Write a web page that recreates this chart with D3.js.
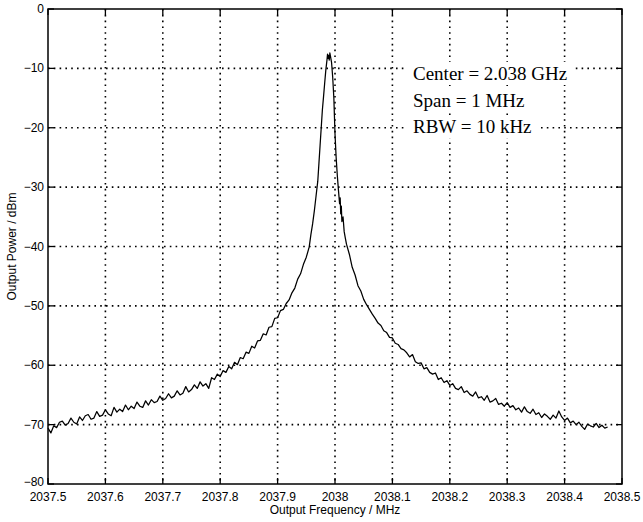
<!DOCTYPE html>
<html>
<head>
<meta charset="utf-8">
<script src="https://cdn.jsdelivr.net/npm/d3@7"></script>
<style>
  body { margin: 0; background: #fff; }
  svg { display: block; }
  .tick-label { font-family: "Liberation Sans", Arial, sans-serif; font-size: 12px; fill: #000; }
  .axis-title { font-family: "Liberation Sans", Arial, sans-serif; font-size: 12px; fill: #000; }
  .note { font-family: "Liberation Serif", "Times New Roman", serif; font-size: 19px; fill: #000; }
</style>
</head>
<body>
<div id="main"></div>
<script>
// spectrum trace
const freqMHz = [
  2037.500, 2037.505, 2037.510, 2037.515, 2037.520, 2037.525, 2037.530, 2037.535, 2037.540, 2037.545,
  2037.550, 2037.555, 2037.560, 2037.565, 2037.570, 2037.575, 2037.580, 2037.585, 2037.590, 2037.595,
  2037.600, 2037.605, 2037.610, 2037.615, 2037.620, 2037.625, 2037.630, 2037.635, 2037.640, 2037.645,
  2037.650, 2037.655, 2037.660, 2037.665, 2037.670, 2037.675, 2037.680, 2037.685, 2037.690, 2037.695,
  2037.700, 2037.705, 2037.710, 2037.715, 2037.720, 2037.725, 2037.730, 2037.735, 2037.740, 2037.745,
  2037.750, 2037.755, 2037.760, 2037.765, 2037.770, 2037.775, 2037.780, 2037.785, 2037.790, 2037.795,
  2037.800, 2037.805, 2037.810, 2037.815, 2037.820, 2037.825, 2037.830, 2037.835, 2037.840, 2037.845,
  2037.850, 2037.855, 2037.860, 2037.865, 2037.870, 2037.875, 2037.880, 2037.885, 2037.890, 2037.895,
  2037.900, 2037.905, 2037.910, 2037.915, 2037.920, 2037.925, 2037.930, 2037.935, 2037.940, 2037.945,
  2037.950, 2037.955,
  2037.958, 2037.961, 2037.964, 2037.967, 2037.970, 2037.972, 2037.974, 2037.976, 2037.978, 2037.980,
  2037.982, 2037.984, 2037.986, 2037.987, 2037.988, 2037.989, 2037.990, 2037.991, 2037.992, 2037.994,
  2037.996, 2037.998, 2037.999, 2038.000, 2038.002, 2038.004, 2038.006, 2038.008, 2038.009, 2038.010,
  2038.011, 2038.012, 2038.014, 2038.016, 2038.018, 2038.020,
  2038.025, 2038.030, 2038.035, 2038.040, 2038.045, 2038.050, 2038.055, 2038.060, 2038.065, 2038.070,
  2038.075, 2038.080, 2038.085, 2038.090, 2038.095, 2038.100, 2038.105, 2038.110, 2038.115, 2038.120,
  2038.125, 2038.130, 2038.135, 2038.140, 2038.145, 2038.150, 2038.155, 2038.160, 2038.165, 2038.170,
  2038.175, 2038.180, 2038.185, 2038.190, 2038.195, 2038.200, 2038.205, 2038.210, 2038.215, 2038.220,
  2038.225, 2038.230, 2038.235, 2038.240, 2038.245, 2038.250, 2038.255, 2038.260, 2038.265, 2038.270,
  2038.275, 2038.280, 2038.285, 2038.290, 2038.295, 2038.300, 2038.305, 2038.310, 2038.315, 2038.320,
  2038.325, 2038.330, 2038.335, 2038.340, 2038.345, 2038.350, 2038.355, 2038.360, 2038.365, 2038.370,
  2038.375, 2038.380, 2038.385, 2038.390, 2038.395, 2038.400, 2038.405, 2038.410, 2038.415, 2038.420,
  2038.425, 2038.430, 2038.435, 2038.440, 2038.445, 2038.450, 2038.455, 2038.460, 2038.465, 2038.470,
  2038.475
];
const powerDbm = [
  -70.6, -71.4, -70.2, -70.5, -69.6, -69.4, -70.1, -69.8, -68.9, -69.6,
  -69.9, -68.7, -69.3, -68.5, -68.3, -69.1, -68.9, -67.8, -68.6, -68.4,
  -67.5, -68.2, -68.5, -67.1, -67.9, -67.4, -67.8, -66.7, -67.5, -66.9,
  -67.3, -66.2, -66.9, -67.1, -66.0, -66.7, -65.8, -66.3, -66.1, -65.2,
  -65.9, -65.6, -64.8, -65.5, -65.2, -64.3, -65.0, -64.7, -63.6, -64.5,
  -64.1, -63.3, -63.9, -62.8, -63.5, -63.1, -63.9, -62.1, -62.4, -61.5,
  -61.9, -60.9, -61.2, -60.2, -60.6, -59.5, -59.9, -58.7, -58.9, -57.8,
  -58.0, -56.8, -57.1, -55.9, -55.8, -54.7, -54.9, -53.6, -53.5, -52.1,
  -52.0, -50.8, -50.6, -49.6, -49.0, -47.8, -47.0, -45.5, -44.6, -43.0,
  -41.8, -40.1,
  -38.0, -36.2, -34.0, -31.5, -29.0, -26.0, -23.0, -20.0, -17.0, -14.8,
  -12.5, -10.3, -8.6, -7.6, -8.3, -7.8, -8.6, -7.4, -7.9, -9.0,
  -11.5, -15.0, -18.0, -21.0, -25.0, -28.0, -30.5, -32.8, -31.8, -34.5,
  -33.2, -35.8, -35.0, -37.5, -38.6, -39.6,
  -41.3, -43.5, -44.8, -46.6, -47.5, -48.9, -49.8, -50.6, -51.4, -52.1,
  -52.9, -53.3, -54.2, -54.5, -55.3, -55.4, -56.3, -56.5, -57.2, -57.4,
  -57.9, -58.6, -58.2, -59.4, -59.7, -59.6, -60.6, -60.4, -61.2, -61.5,
  -61.3, -62.4, -62.1, -62.9, -62.6, -63.4, -63.1, -63.9, -64.1, -63.6,
  -64.6, -64.3, -64.9, -65.2, -64.5, -65.5, -65.3, -65.9, -65.1, -66.2,
  -66.0, -65.6, -66.6, -66.4, -66.9, -66.3, -67.1, -66.8, -67.5, -67.2,
  -67.9, -67.0, -67.8, -68.1, -67.4, -68.3, -68.0, -68.8, -68.2, -68.6,
  -69.1, -68.4, -68.9, -67.7, -68.7, -69.3, -68.9, -69.7, -69.4, -70.0,
  -69.6, -70.3, -70.8, -69.9, -70.2, -70.4, -69.8, -70.5, -70.1, -70.6,
  -70.4
];
const xTicks = [2037.5, 2037.6, 2037.7, 2037.8, 2037.9, 2038, 2038.1, 2038.2, 2038.3, 2038.4, 2038.5];
const yTicks = [0, -10, -20, -30, -40, -50, -60, -70, -80];
const notes = ["Center = 2.038 GHz", "Span = 1 MHz", "RBW = 10 kHz"];

const width = 643, height = 522;
const plotL = 48, plotR = 622, plotT = 9, plotB = 484;

const svg = d3.select('#main').append('svg')
  .attr('width', width)
  .attr('height', height);

const x = d3.scaleLinear().domain([2037.5, 2038.5]).range([plotL, plotR]);
const y = d3.scaleLinear().domain([-80, 0]).range([plotB, plotT]);

// dotted grid
const grid = svg.append('g')
  .attr('stroke', '#000')
  .attr('stroke-width', 1.6)
  .attr('stroke-dasharray', '1.6,4.2');
grid.selectAll('.vg')
  .data(xTicks.slice(1, -1))
  .enter().append('line')
  .attr('x1', d => x(d)).attr('x2', d => x(d))
  .attr('y1', plotT).attr('y2', plotB);
grid.selectAll('.hg')
  .data(yTicks.slice(1, -1))
  .enter().append('line')
  .attr('x1', plotL).attr('x2', plotR)
  .attr('y1', d => y(d)).attr('y2', d => y(d));

// trace
const line = d3.line()
  .x((d, i) => x(freqMHz[i]))
  .y(d => y(d));
svg.append('path')
  .datum(powerDbm)
  .attr('fill', 'none')
  .attr('stroke', '#000')
  .attr('stroke-width', 1.25)
  .attr('stroke-linejoin', 'round')
  .attr('d', line);

// annotation with white boxes over the grid
const noteG = svg.append('g');
notes.forEach((t, i) => {
  const g = noteG.append('g');
  const txt = g.append('text')
    .attr('class', 'note')
    .attr('x', 413)
    .attr('y', 80 + i * 26.7)
    .text(t);
  const bb = txt.node().getBBox();
  g.insert('rect', 'text')
    .attr('x', bb.x - 6).attr('y', bb.y - 1)
    .attr('width', bb.width + 12).attr('height', bb.height + 2)
    .attr('fill', '#fff');
});

// frame
svg.append('rect')
  .attr('x', plotL).attr('y', plotT)
  .attr('width', plotR - plotL).attr('height', plotB - plotT)
  .attr('fill', 'none')
  .attr('stroke', '#000')
  .attr('stroke-width', 1.5);

// inward ticks on all four sides
const tk = svg.append('g').attr('stroke', '#000').attr('stroke-width', 1.3);
xTicks.forEach(v => {
  tk.append('line').attr('x1', x(v)).attr('x2', x(v)).attr('y1', plotB).attr('y2', plotB - 6);
  tk.append('line').attr('x1', x(v)).attr('x2', x(v)).attr('y1', plotT).attr('y2', plotT + 6);
});
yTicks.forEach(v => {
  tk.append('line').attr('x1', plotL).attr('x2', plotL + 6).attr('y1', y(v)).attr('y2', y(v));
  tk.append('line').attr('x1', plotR).attr('x2', plotR - 6).attr('y1', y(v)).attr('y2', y(v));
});

// tick labels
svg.append('g').selectAll('text')
  .data(xTicks)
  .enter().append('text')
  .attr('class', 'tick-label')
  .attr('x', d => x(d))
  .attr('y', plotB + 17)
  .attr('text-anchor', 'middle')
  .text(d => d3.format('')(d));
svg.append('g').selectAll('text')
  .data(yTicks)
  .enter().append('text')
  .attr('class', 'tick-label')
  .attr('x', plotL - 4)
  .attr('y', d => y(d) + (d === -80 ? 2 : 4))
  .attr('text-anchor', 'end')
  .text(d => d === 0 ? '0' : '\u2212' + Math.abs(d));

// axis titles
svg.append('text')
  .attr('class', 'axis-title')
  .attr('x', (plotL + plotR) / 2)
  .attr('y', 514)
  .attr('text-anchor', 'middle')
  .text('Output Frequency / MHz');
svg.append('text')
  .attr('class', 'axis-title')
  .attr('transform', 'translate(16,' + ((plotT + plotB) / 2) + ') rotate(-90)')
  .attr('text-anchor', 'middle')
  .text('Output Power / dBm');
</script>
</body>
</html>
